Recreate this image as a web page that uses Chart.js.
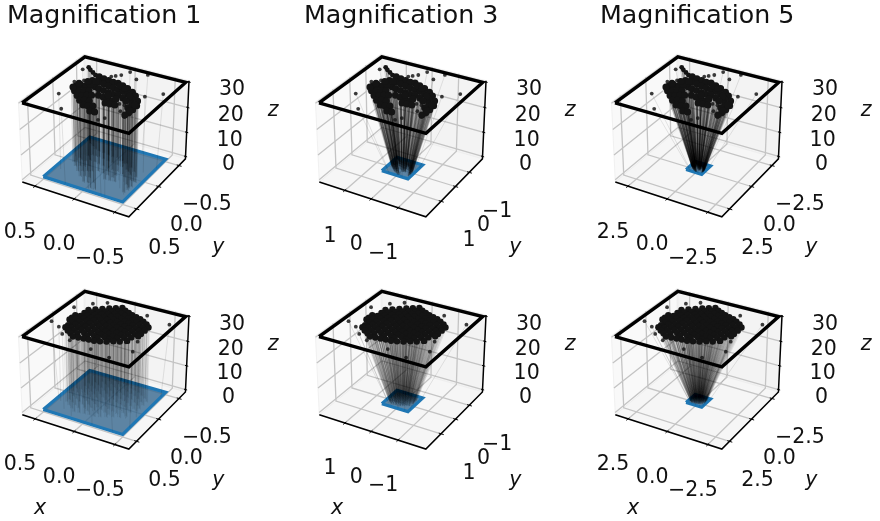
<!DOCTYPE html>
<html>
<head>
<meta charset="utf-8">
<title>Magnification</title>
<script src="https://cdn.jsdelivr.net/npm/chart.js@4"></script>
<style>
    html, body { margin: 0; background: #fff; overflow: hidden; width: 880px; height: 521px; }
    canvas { position: absolute; filter: blur(0.45px); }
</style>
</head>
<body>
<script>
// Columns
const magnifications = [1, 3, 5];
const axisHalfRange = [0.667, 2, 3.333];
const frameHalfSize = [0.64, 1.92, 3.2];
const plateHalfSize = 0.5;
const tickValues = [[0.5, 0, -0.5], [1, 0, -1], [2.5, 0, -2.5]];
const xTickLabels = [["0.5", "0.0", "\u22120.5"], ["1", "0", "\u22121"], ["2.5", "0.0", "\u22122.5"]];
const yTickLabels = [["0.5", "0.0", "\u22120.5"], ["1", "0", "\u22121"], ["2.5", "0.0", "\u22122.5"]];
const zTicks = [0, 10, 20, 30];
const zTickLabels = ["0", "10", "20", "30"];
const zRange = [-1, 30.5];
const frameZ = 30;
const plateZ = 0;

// Top row cloud, dense part (positions at magnification 1), the first four are the thin tip
const birdX = [0.464, 0.415, 0.356, 0.298, 0.242, 0.176, 0.110, 0.045, -0.011, -0.087, -0.163, -0.25, -0.319, -0.390, -0.433, -0.439, -0.435, -0.421,
    0.179, 0.113, 0.047, -0.018, -0.084, -0.150, -0.226, -0.315, -0.367, -0.373,
    0.161, 0.105, 0.039, -0.027, -0.092, -0.148,
    0.031, -0.035, -0.101, -0.166, -0.116, -0.171, -0.172,
    0.351, 0.316, 0.262, 0.227, 0.307, 0.262, 0.217, 0.173, 0.227, 0.182, 0.138, 0.093,
    0.148, 0.104, 0.048, 0.059, 0.005, -0.040, -0.066, -0.121,
    0.262, 0.296, 0.215, -0.060, -0.137, -0.265, -0.405, -0.423, -0.224, -0.283, -0.059, -0.226, 0.367, 0.355];
const birdY = [-0.430, -0.384, -0.342, -0.301, -0.285, -0.273, -0.262, -0.250, -0.257, -0.227, -0.197, -0.147, -0.087, -0.003, 0.097, 0.194, 0.271, 0.330,
    -0.171, -0.159, -0.148, -0.137, -0.125, -0.114, -0.083, -0.010, 0.085, 0.182,
    -0.056, -0.039, -0.027, -0.016, -0.004, -0.011,
    0.094, 0.106, 0.116, 0.128, 0.208, 0.201, 0.074,
    0.031, -0.014, -0.022, -0.067, 0.130, 0.104, 0.078, 0.051, 0.209, 0.183, 0.157, 0.131,
    0.288, 0.261, 0.254, 0.362, 0.354, 0.328, 0.438, 0.431,
    -0.172, -0.127, -0.174, -0.211, -0.181, -0.055, 0.088, 0.228, 0.019, 0.060, 0.041, 0.193, 0.065, -0.042];
// Top row cloud, stray points
const birdStrayX = [0.418, 0.215, 0.418, 0.496, 0.342, -0.235, -0.276, 0.131, 0.097, 0.054, 0.004, -0.141, -0.412, -0.554, -0.257, -0.316, -0.343, -0.439, -0.199];
const birdStrayY = [0.271, 0.545, -0.048, -0.353, -0.125, 0.557, 0.490, -0.357, -0.395, -0.445, -0.557, -0.435, -0.125, -0.275, 0.150, 0.149, 0.283, 0.370, -0.594];

// Bottom row cloud, dense part: one list of y per x column
const squareColumnX = [0.42, 0.36, 0.30, 0.24, 0.18, 0.12, 0.06, 0, -0.06, -0.12, -0.18, -0.24, -0.30, -0.36, -0.41];
const squareColumnY = [
    [-0.07, 0, 0.05],
    [-0.25, -0.165, -0.08, 0.005, 0.09, 0.175, 0.23],
    [-0.30, -0.215, -0.13, -0.045, 0.04, 0.125, 0.21, 0.28],
    [-0.35, -0.265, -0.18, -0.095, -0.01, 0.075, 0.16, 0.245, 0.32],
    [-0.40, -0.315, -0.23, -0.145, -0.06, 0.025, 0.11, 0.195, 0.28, 0.37],
    [-0.44, -0.355, -0.27, -0.185, -0.10, -0.015, 0.07, 0.155, 0.24, 0.36],
    [-0.48, -0.395, -0.31, -0.225, -0.14, -0.055, 0.03, 0.115, 0.20, 0.285, 0.35],
    [-0.44, -0.355, -0.27, -0.185, -0.10, -0.015, 0.07, 0.155, 0.24, 0.345],
    [-0.41, -0.325, -0.24, -0.155, -0.07, 0.015, 0.10, 0.185, 0.27, 0.34],
    [-0.38, -0.295, -0.21, -0.125, -0.04, 0.045, 0.13, 0.215, 0.32],
    [-0.36, -0.275, -0.19, -0.105, -0.02, 0.065, 0.15, 0.235, 0.29],
    [-0.34, -0.255, -0.17, -0.085, 0, 0.085, 0.17, 0.25],
    [-0.30, -0.215, -0.13, -0.045, 0.04, 0.125, 0.22],
    [-0.26, -0.175, -0.09, -0.005, 0.08, 0.17],
    [-0.21, -0.125, -0.04, 0.02]
];
// Bottom row cloud, stray points
const squareStrayX = [0.566, 0.429, 0.309, 0.165, 0.534, 0.398, 0.268, -0.123, -0.375, -0.523, -0.463, -0.267, -0.574, -0.001, -0.365];
const squareStrayY = [0.182, 0.252, 0.375, 0.456, -0.231, -0.411, -0.512, 0.513, 0.575, 0.345, 0.130, -0.450, -0.380, -0.419, 0.204];

// Each dense point stands for a few neighbours, each with its own ray
const fanDX = [0, 0.014, -0.014, 0.007];
const fanDY = [0, 0.008, 0.006, -0.012];
const rayBundles = 12;

// Layout
const canvasWidth = 287;
const columnStep = 296.5;
const rows = [
    { top: 0, height: 275, plotTop: 34, centerY: 133.2, hasTitle: true, hasXLabel: false, rayColor: "rgba(0,0,0,0.3)" },
    { top: 262, height: 259, plotTop: 0, centerY: 102.2, hasTitle: false, hasXLabel: true, rayColor: "rgba(0,0,0,0.15)" }
];
const centerX = 106.8;
const pixelsPerUnit = 1040;
const leftPad = 7;
const fontFamily = "'DejaVu Sans', sans-serif";

// ---------------- 3D VIEW ----------------
// elevation 30, azimuth 120, box 4:4:3, camera distance 10
const elev = 30 * Math.PI / 180;
const azim = 120 * Math.PI / 180;
const dist = 10;
const boxScale = 1.8294640721620434 * 25 / 24 / Math.hypot(4, 4, 3);
const box = [4 * boxScale / 2, 4 * boxScale / 2, 3 * boxScale / 2];
const w = [Math.cos(azim) * Math.cos(elev), Math.sin(azim) * Math.cos(elev), Math.sin(elev)];
const uLen = Math.hypot(w[0], w[1]);
const u = [-w[1] / uLen, w[0] / uLen, 0];
const v = [w[1] * u[2] - w[2] * u[1], w[2] * u[0] - w[0] * u[2], w[0] * u[1] - w[1] * u[0]];

// nx, ny, nz go from -1 to 1 over the box
function projectNorm(nx, ny, nz) {
    const p = [nx * box[0], ny * box[1], nz * box[2]];
    const dot = a => a[0] * p[0] + a[1] * p[1] + a[2] * p[2];
    const depth = dist - dot(w);
    return { x: dot(u) / depth, y: dot(v) / depth };
}

function normZ(z) {
    return 2 * (z - zRange[0]) / (zRange[1] - zRange[0]) - 1;
}

function lineSet(points, color, width) {
    return { data: points, showLine: true, borderColor: color, borderWidth: width, pointRadius: 0, fill: false, clip: false };
}

function polygonSet(points, fillColor, edgeColor, edgeWidth) {
    return {
        data: points.concat([points[0]]), showLine: true, fill: "shape", backgroundColor: fillColor,
        borderColor: edgeColor, borderWidth: edgeWidth, pointRadius: 0, clip: false
    };
}

function pointSet(points, color, radius) {
    return { data: points, showLine: false, backgroundColor: color, borderWidth: 0, pointRadius: radius, clip: false };
}

function buildDatasets(col, row, cloudX, cloudY, strayX, strayY, coreRadius) {
    const half = axisHalfRange[col];
    const mag = magnifications[col];
    const P = (x, y, z) => projectNorm(x / half, y / half, normZ(z));
    const Q = projectNorm;
    const sets = [];
    const gridColor = "#c4c4c4";

    // panes
    sets.push(polygonSet([Q(1, -1, -1), Q(1, 1, -1), Q(1, 1, 1), Q(1, -1, 1)], "#f9f9f9", "#eeeeee", 0.8));
    sets.push(polygonSet([Q(1, -1, -1), Q(-1, -1, -1), Q(-1, -1, 1), Q(1, -1, 1)], "#f3f3f3", "#eeeeee", 0.8));
    sets.push(polygonSet([Q(1, -1, -1), Q(-1, -1, -1), Q(-1, 1, -1), Q(1, 1, -1)], "#f6f6f6", "#eeeeee", 0.8));

    // grid
    tickValues[col].forEach(t => {
        const n = t / half;
        sets.push(lineSet([Q(n, 1, -1), Q(n, -1, -1), Q(n, -1, 1)], gridColor, 1.3));
        sets.push(lineSet([Q(-1, n, -1), Q(1, n, -1), Q(1, n, 1)], gridColor, 1.3));
    });
    zTicks.forEach(t => {
        const n = normZ(t);
        sets.push(lineSet([Q(1, 1, n), Q(1, -1, n), Q(-1, -1, n)], gridColor, 1.3));
    });

    // axis lines and tick marks
    sets.push(lineSet([Q(1, 1, -1), Q(-1, 1, -1), Q(-1, -1, -1), Q(-1, -1, 1)], "#000", 1.5));
    tickValues[col].forEach(t => {
        const n = t / half;
        sets.push(lineSet([Q(n, 0.96, -1), Q(n, 1.05, -1)], "#000", 1));
        sets.push(lineSet([Q(-0.96, n, -1), Q(-1.05, n, -1)], "#000", 1));
    });
    zTicks.forEach(t => {
        const n = normZ(t);
        sets.push(lineSet([Q(-0.97, -1, n), Q(-1.03, -1, n)], "#000", 1));
    });

    // plate
    const ph = plateHalfSize;
    sets.push(polygonSet([P(ph, ph, plateZ), P(ph, -ph, plateZ), P(-ph, -ph, plateZ), P(-ph, ph, plateZ)],
        "rgba(50,100,140,0.78)", "#1f77b4", 3.2));

    // rays from the plate up to the frame, gathered in a few bundles so that they darken where they cross
    const clampPlate = n => Math.max(-ph, Math.min(ph, n));
    const bundles = [];
    for (let b = 0; b < rayBundles; b++) bundles.push([]);
    const gap = { x: NaN, y: NaN };
    let rayCount = 0;
    cloudX.forEach((x, i) => {
        fanDX.forEach((dx, f) => {
            const rx = x + dx;
            const ry = cloudY[i] + fanDY[f];
            bundles[rayCount % rayBundles].push(P(clampPlate(rx), clampPlate(ry), plateZ), P(rx * mag, ry * mag, frameZ), gap);
            rayCount++;
        });
    });
    bundles.forEach(points => sets.push(lineSet(points, row.rayColor, 0.5)));
    sets.push(lineSet(strayX.flatMap((x, i) => [P(clampPlate(x), clampPlate(strayY[i]), plateZ), P(x * mag, strayY[i] * mag, frameZ), gap]),
        "rgba(0,0,0,0.16)", 0.6));

    // cloud
    sets.push(pointSet(strayX.map((x, i) => P(x * mag, strayY[i] * mag, frameZ)), "rgba(25,25,25,0.85)", 1.9));
    sets.push(pointSet(cloudX.map((x, i) => P(x * mag, cloudY[i] * mag, frameZ)), "rgb(20,20,20)", coreRadius));

    // frame
    const fh = frameHalfSize[col];
    sets.push(polygonSet([P(fh, fh, frameZ), P(fh, -fh, frameZ), P(-fh, -fh, frameZ), P(-fh, fh, frameZ)],
        "rgba(0,0,0,0)", "#000", 3.4));

    // first dataset is painted last by Chart.js
    return sets.reverse();
}

// Tick and axis text
const axisTextPlugin = {
    id: "axisText",
    afterDraw(chart, args, opts) {
        const { ctx, scales } = chart;
        const half = axisHalfRange[opts.col];
        const put = (p, dx, dy, text, italic) => {
            ctx.font = (italic ? "italic " : "") + "20.5px " + fontFamily;
            ctx.fillStyle = "#111";
            ctx.textAlign = "center";
            ctx.textBaseline = "middle";
            ctx.fillText(text, scales.x.getPixelForValue(p.x) + dx, scales.y.getPixelForValue(p.y) + dy);
        };
        ctx.save();
        tickValues[opts.col].forEach((t, i) => {
            put(projectNorm(t / half, 1, -1), -15, 46, xTickLabels[opts.col][i]);
            put(projectNorm(-1, t / half, -1), 28, 39.5, yTickLabels[opts.col][i]);
        });
        zTicks.forEach((t, i) => put(projectNorm(-1, -1, normZ(t)), 43, 8, zTickLabels[i]));
        put(projectNorm(-1, 0, -1), 60, 61, "y", true);
        put(projectNorm(-1, -1, 0), 86, -10, "z", true);
        if (opts.hasXLabel) put(projectNorm(0, 1, -1), -34, 77, "x", true);
        ctx.restore();
    }
};

// ---------------- CHARTS ----------------
function makeChart(col, row, cloudX, cloudY, strayX, strayY, coreRadius) {
    const canvas = document.createElement("canvas");
    canvas.width = canvasWidth;
    canvas.height = row.height;
    canvas.style.left = (col * columnStep) + "px";
    canvas.style.top = row.top + "px";
    document.body.appendChild(canvas);

    const plotHeight = row.height - row.plotTop;
    const yMax = (row.centerY - row.plotTop) / pixelsPerUnit;

    new Chart(canvas.getContext("2d"), {
        type: "scatter",
        data: { datasets: buildDatasets(col, row, cloudX, cloudY, strayX, strayY, coreRadius) },
        options: {
            responsive: false,
            animation: false,
            events: [],
            layout: { padding: { left: leftPad } },
            scales: {
                x: { type: "linear", display: false, min: -(centerX - leftPad) / pixelsPerUnit, max: (canvasWidth - centerX) / pixelsPerUnit },
                y: { type: "linear", display: false, min: yMax - plotHeight / pixelsPerUnit, max: yMax }
            },
            plugins: {
                legend: { display: false },
                tooltip: { enabled: false },
                title: {
                    display: row.hasTitle,
                    text: "Magnification " + magnifications[col],
                    align: "start",
                    color: "#111",
                    font: { family: fontFamily, size: 25.3, weight: "normal", lineHeight: 1.2 },
                    padding: { top: 1, bottom: 2.64 }
                },
                axisText: { col: col, hasXLabel: row.hasXLabel }
            }
        },
        plugins: [axisTextPlugin]
    });
}

const squareX = [];
const squareY = [];
squareColumnX.forEach((x, i) => {
    squareColumnY[i].forEach(y => {
        squareX.push(x);
        squareY.push(y);
    });
});

const birdRadii = birdX.map((x, i) => i < 4 ? 2.4 : 3.5);

// INIT
magnifications.forEach((m, col) => {
    makeChart(col, rows[0], birdX, birdY, birdStrayX, birdStrayY, birdRadii);
    makeChart(col, rows[1], squareX, squareY, squareStrayX, squareStrayY, 3.2);
});
</script>
</body>
</html>
